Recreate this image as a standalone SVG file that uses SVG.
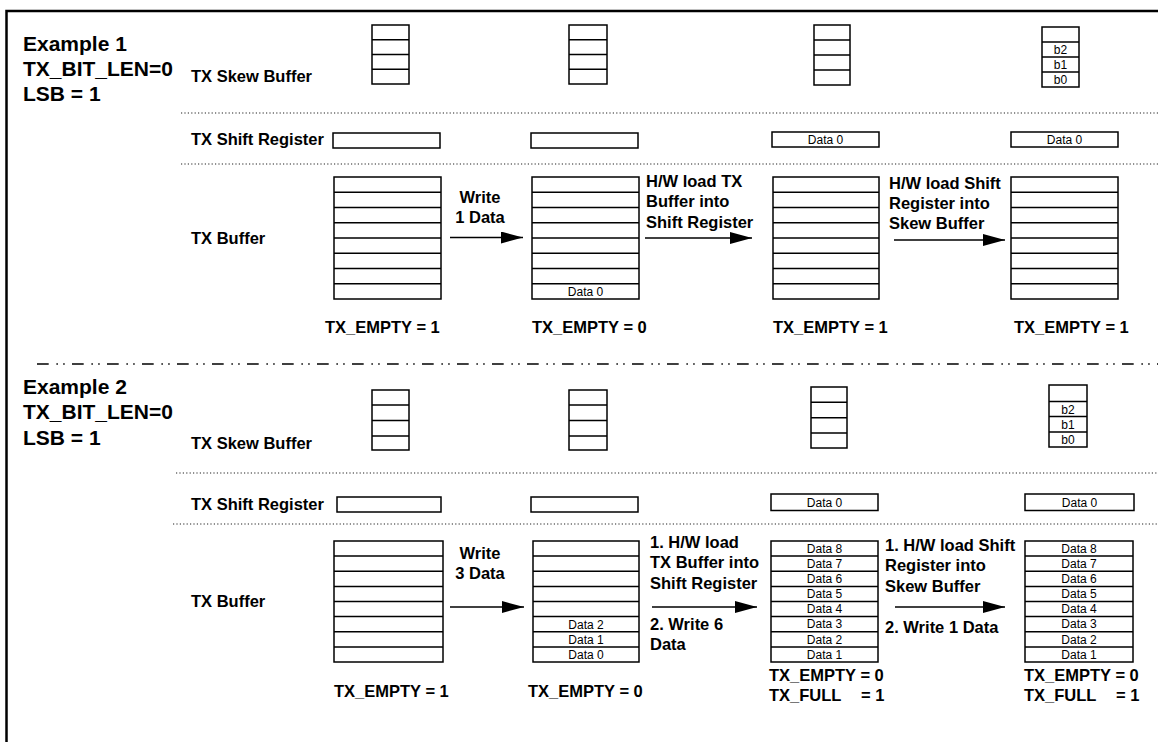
<svg xmlns="http://www.w3.org/2000/svg" width="1158" height="742" viewBox="0 0 1158 742">
<defs>
<style>
.frame{fill:none;stroke:#000;stroke-width:2.5}
.box{fill:#fff;stroke:#000;stroke-width:1.5}
.row{stroke:#000;stroke-width:1.5}
.dot{stroke:#222;stroke-width:1.2;stroke-dasharray:1.2 2.2;fill:none}
.sep{stroke:#000;stroke-width:1.6;stroke-dasharray:11.7 7.7 1.5 5.3 1.5 7.3;fill:none}
.arr{stroke:#000;stroke-width:1.5;fill:none;marker-end:url(#ah)}
.t{font-family:"Liberation Sans",Arial,sans-serif;font-weight:bold;font-size:16.5px;fill:#000}
.h{font-family:"Liberation Sans",Arial,sans-serif;font-weight:bold;font-size:21px;fill:#000}
.s{font-family:"Liberation Sans",Arial,sans-serif;font-size:12px;fill:#000;text-anchor:middle}
.c{text-anchor:middle}
</style>
<marker id="ah" markerUnits="userSpaceOnUse" markerWidth="22" markerHeight="12" refX="22" refY="6" orient="auto">
<path d="M0,0 L22,6 L0,12 z" fill="#000"/>
</marker>
</defs>
<rect width="1158" height="742" fill="#fff"/>
<path class="frame" d="M1158 11 H6.5 V742"/>

<g id="separators">
<line class="dot" x1="181" y1="113" x2="1158" y2="113"/>
<line class="dot" x1="181" y1="164" x2="1158" y2="164"/>
<line class="sep" x1="37" y1="364" x2="1158" y2="364"/>
<line class="dot" x1="176" y1="473" x2="1158" y2="473"/>
<line class="dot" x1="173" y1="524" x2="1158" y2="524"/>
</g>

<!-- Example 1 labels -->
<g id="ex1-title">
<text class="h" x="23" y="51">Example 1</text>
<text class="h" x="23" y="76">TX_BIT_LEN=0</text>
<text class="h" x="23" y="101">LSB = 1</text>
</g>
<g id="ex1-row-labels">
<text class="t" x="191" y="82">TX Skew Buffer</text>
<text class="t" x="191" y="145">TX Shift Register</text>
<text class="t" x="191" y="244">TX Buffer</text>
</g>

<!-- Example 1 skew buffers -->
<g id="ex1-skew1">
<rect class="box" x="372" y="25" width="37" height="59"/>
<path class="row" d="M372 39.75H409M372 54.5H409M372 69.25H409"/>
</g>
<g id="ex1-skew2">
<rect class="box" x="569" y="25" width="38" height="59"/>
<path class="row" d="M569 39.75H607M569 54.5H607M569 69.25H607"/>
</g>
<g id="ex1-skew3">
<rect class="box" x="814" y="25" width="36" height="60"/>
<path class="row" d="M814 40H850M814 55H850M814 70H850"/>
</g>
<g id="ex1-skew4">
<rect class="box" x="1042" y="27" width="37" height="60"/>
<path class="row" d="M1042 42H1079M1042 57H1079M1042 72H1079"/>
<text class="s" x="1060.5" y="54">b2</text>
<text class="s" x="1060.5" y="69">b1</text>
<text class="s" x="1060.5" y="84">b0</text>
</g>

<!-- Example 1 shift registers -->
<g id="ex1-shift1"><rect class="box" x="333" y="133" width="107" height="15"/></g>
<g id="ex1-shift2"><rect class="box" x="531" y="133" width="107" height="15"/></g>
<g id="ex1-shift3"><rect class="box" x="772" y="132" width="107" height="15"/><text class="s" x="825.5" y="144">Data 0</text></g>
<g id="ex1-shift4"><rect class="box" x="1011" y="132" width="107" height="15"/><text class="s" x="1064.5" y="144">Data 0</text></g>

<!-- Example 1 TX buffers -->
<g id="ex1-buf1">
<rect class="box" x="334" y="177" width="107" height="122"/>
<path class="row" d="M334 192.25H441M334 207.5H441M334 222.75H441M334 238H441M334 253.25H441M334 268.5H441M334 283.75H441"/>
<text class="t" x="325" y="333">TX_EMPTY = 1</text>
</g>
<g id="ex1-buf2">
<rect class="box" x="532" y="177" width="107" height="122"/>
<path class="row" d="M532 192.25H639M532 207.5H639M532 222.75H639M532 238H639M532 253.25H639M532 268.5H639M532 283.75H639"/>
<text class="s" x="585.5" y="295.5">Data 0</text>
<text class="t" x="532" y="333">TX_EMPTY = 0</text>
</g>
<g id="ex1-buf3">
<rect class="box" x="773" y="177" width="106" height="122"/>
<path class="row" d="M773 192.25H879M773 207.5H879M773 222.75H879M773 238H879M773 253.25H879M773 268.5H879M773 283.75H879"/>
<text class="t" x="773" y="333">TX_EMPTY = 1</text>
</g>
<g id="ex1-buf4">
<rect class="box" x="1011" y="177" width="107" height="122"/>
<path class="row" d="M1011 192.25H1118M1011 207.5H1118M1011 222.75H1118M1011 238H1118M1011 253.25H1118M1011 268.5H1118M1011 283.75H1118"/>
<text class="t" x="1014" y="333">TX_EMPTY = 1</text>
</g>

<!-- Example 2 labels -->
<g id="ex2-title">
<text class="h" x="23" y="394">Example 2</text>
<text class="h" x="23" y="419">TX_BIT_LEN=0</text>
<text class="h" x="23" y="445">LSB = 1</text>
</g>
<g id="ex2-row-labels">
<text class="t" x="191" y="449">TX Skew Buffer</text>
<text class="t" x="191" y="510">TX Shift Register</text>
<text class="t" x="191" y="607">TX Buffer</text>
</g>

<!-- Example 2 skew buffers -->
<g id="ex2-skew1">
<rect class="box" x="372" y="390" width="37" height="60"/>
<path class="row" d="M372 405H409M372 420.5H409M372 436H409"/>
</g>
<g id="ex2-skew2">
<rect class="box" x="569" y="390" width="38" height="60"/>
<path class="row" d="M569 405H607M569 420.5H607M569 436H607"/>
</g>
<g id="ex2-skew3">
<rect class="box" x="811" y="387" width="36" height="61"/>
<path class="row" d="M811 402.3H847M811 417.7H847M811 433H847"/>
</g>
<g id="ex2-skew4">
<rect class="box" x="1049" y="385" width="38" height="62"/>
<path class="row" d="M1049 401.5H1087M1049 416.5H1087M1049 432H1087"/>
<text class="s" x="1068" y="413.5">b2</text>
<text class="s" x="1068" y="428.5">b1</text>
<text class="s" x="1068" y="444">b0</text>
</g>

<!-- Example 2 shift registers -->
<g id="ex2-shift1"><rect class="box" x="337" y="497" width="104" height="15"/></g>
<g id="ex2-shift2"><rect class="box" x="531" y="497" width="107" height="15"/></g>
<g id="ex2-shift3"><rect class="box" x="771" y="494" width="107" height="16.5"/><text class="s" x="824.5" y="506.5">Data 0</text></g>
<g id="ex2-shift4"><rect class="box" x="1025" y="494" width="109" height="16.5"/><text class="s" x="1079.5" y="506.5">Data 0</text></g>

<!-- Example 2 TX buffers -->
<g id="ex2-buf1">
<rect class="box" x="334" y="541" width="109" height="121"/>
<path class="row" d="M334 556.1H443M334 571.25H443M334 586.4H443M334 601.5H443M334 616.6H443M334 631.75H443M334 646.9H443"/>
<text class="t" x="334" y="697">TX_EMPTY = 1</text>
</g>
<g id="ex2-buf2">
<rect class="box" x="533" y="541" width="106" height="121"/>
<path class="row" d="M533 556.1H639M533 571.25H639M533 586.4H639M533 601.5H639M533 616.6H639M533 631.75H639M533 646.9H639"/>
<text class="s" x="586" y="628.5">Data 2</text>
<text class="s" x="586" y="643.6">Data 1</text>
<text class="s" x="586" y="658.8">Data 0</text>
<text class="t" x="528" y="697">TX_EMPTY = 0</text>
</g>
<g id="ex2-buf3">
<rect class="box" x="771" y="541" width="107" height="121"/>
<path class="row" d="M771 556.1H878M771 571.25H878M771 586.4H878M771 601.5H878M771 616.6H878M771 631.75H878M771 646.9H878"/>
<text class="s" x="824.5" y="552.7">Data 8</text>
<text class="s" x="824.5" y="567.8">Data 7</text>
<text class="s" x="824.5" y="583">Data 6</text>
<text class="s" x="824.5" y="598.1">Data 5</text>
<text class="s" x="824.5" y="613.2">Data 4</text>
<text class="s" x="824.5" y="628.3">Data 3</text>
<text class="s" x="824.5" y="643.5">Data 2</text>
<text class="s" x="824.5" y="658.6">Data 1</text>
<text class="t" x="769" y="681">TX_EMPTY = 0</text>
<text class="t" x="769" y="701">TX_FULL<tspan x="861">= 1</tspan></text>
</g>
<g id="ex2-buf4">
<rect class="box" x="1025" y="541" width="108" height="121"/>
<path class="row" d="M1025 556.1H1133M1025 571.25H1133M1025 586.4H1133M1025 601.5H1133M1025 616.6H1133M1025 631.75H1133M1025 646.9H1133"/>
<text class="s" x="1079" y="552.7">Data 8</text>
<text class="s" x="1079" y="567.8">Data 7</text>
<text class="s" x="1079" y="583">Data 6</text>
<text class="s" x="1079" y="598.1">Data 5</text>
<text class="s" x="1079" y="613.2">Data 4</text>
<text class="s" x="1079" y="628.3">Data 3</text>
<text class="s" x="1079" y="643.5">Data 2</text>
<text class="s" x="1079" y="658.6">Data 1</text>
<text class="t" x="1024" y="681">TX_EMPTY = 0</text>
<text class="t" x="1024" y="701">TX_FULL<tspan x="1116">= 1</tspan></text>
</g>

<!-- Connectors -->
<g id="connectors">
<line class="arr" x1="450" y1="237.5" x2="523" y2="237.5"/>
<line class="arr" x1="645" y1="238" x2="752" y2="238"/>
<line class="arr" x1="894" y1="240" x2="1005" y2="240"/>
<line class="arr" x1="450" y1="607" x2="524" y2="607"/>
<line class="arr" x1="652" y1="607" x2="757" y2="607"/>
<line class="arr" x1="895" y1="607" x2="1005" y2="607"/>
</g>

<g id="connector-labels">
<text class="t c" x="480" y="203">Write</text>
<text class="t c" x="480" y="223">1 Data</text>
<text class="t" x="646" y="187">H/W load TX</text>
<text class="t" x="646" y="207">Buffer into</text>
<text class="t" x="646" y="228">Shift Register</text>
<text class="t" x="889" y="189">H/W load Shift</text>
<text class="t" x="889" y="209">Register into</text>
<text class="t" x="889" y="229">Skew Buffer</text>
<text class="t c" x="480" y="559">Write</text>
<text class="t c" x="480" y="579">3 Data</text>
<text class="t" x="650" y="548">1. H/W load</text>
<text class="t" x="650" y="568">TX Buffer into</text>
<text class="t" x="650" y="589">Shift Register</text>
<text class="t" x="650" y="630">2. Write 6</text>
<text class="t" x="650" y="650">Data</text>
<text class="t" x="885" y="551">1. H/W load Shift</text>
<text class="t" x="885" y="571">Register into</text>
<text class="t" x="885" y="592">Skew Buffer</text>
<text class="t" x="885" y="633">2. Write 1 Data</text>
</g>
</svg>
